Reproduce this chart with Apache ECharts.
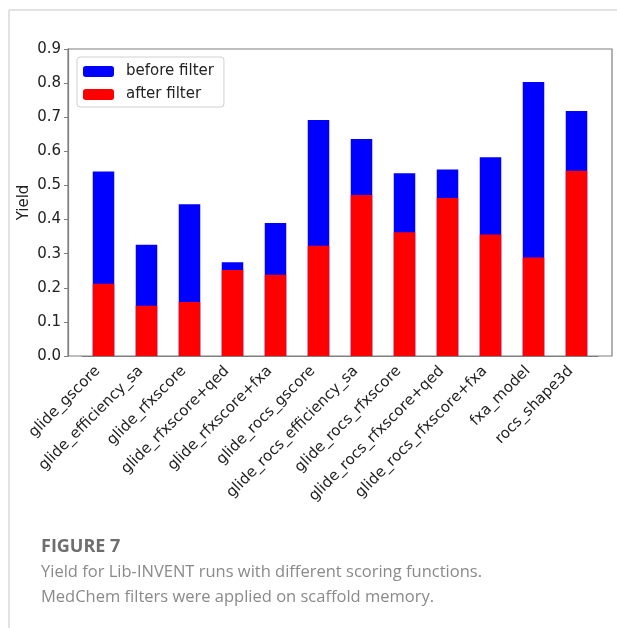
<!DOCTYPE html>
<html>
<head>
<meta charset="utf-8">
<script src="https://cdn.jsdelivr.net/npm/echarts@6/dist/echarts.min.js"></script>
<style>
  html, body { margin: 0; padding: 0; background: #fff; }
  #bar { width: 617px; height: 628px; }
</style>
</head>
<body>
<div id="bar"></div>
<script>
var categories = ['glide_gscore', 'glide_efficiency_sa', 'glide_rfxscore', 'glide_rfxscore+qed',
    'glide_rfxscore+fxa', 'glide_rocs_gscore', 'glide_rocs_efficiency_sa', 'glide_rocs_rfxscore',
    'glide_rocs_rfxscore+qed', 'glide_rocs_rfxscore+fxa', 'fxa_model', 'rocs_shape3d'];
var beforeFilter = [0.541, 0.326, 0.445, 0.275, 0.390, 0.692, 0.636, 0.536, 0.547, 0.583, 0.803, 0.718];
var afterFilter = [0.212, 0.147, 0.158, 0.252, 0.238, 0.323, 0.472, 0.363, 0.463, 0.356, 0.289, 0.543];
var yTicks = [0, 0.1, 0.2, 0.3, 0.4, 0.5, 0.6, 0.7, 0.8, 0.9];

var spine = '#7f7f7f';
var tickFont = 'DejaVu Sans';

//柱状图
var bar = echarts.init(document.getElementById('bar'));
bar.setOption({
    animation: false,
    // grid 0 = frame + y axis, grid 1 = bars (inset like matplotlib margins)
    grid: [
        {left: 68, right: 5, top: 49, bottom: 272, show: true, borderColor: spine, borderWidth: 1.2},
        {left: 82, right: 19, top: 49, bottom: 272}
    ],
    legend: {
        orient: 'vertical',
        left: 77, top: 57,
        itemWidth: 31, itemHeight: 11, itemGap: 8,
        padding: [7, 10, 5, 6],
        borderColor: '#d0d0d0', borderWidth: 1, borderRadius: 3,
        backgroundColor: '#fff',
        textStyle: {fontFamily: tickFont, fontSize: 15, color: '#222', padding: [0, 0, 0, 7]},
        data: ['before filter', 'after filter']
    },
    xAxis: [
        {gridIndex: 0, type: 'value', min: 0, max: 1, show: false},
        {
            gridIndex: 1, type: 'category', data: categories,
            axisLine: {lineStyle: {color: spine, width: 1.2}},
            axisTick: {alignWithLabel: true, length: 4, lineStyle: {color: spine}},
            axisLabel: {
                interval: 0, rotate: 45, margin: 7, padding: [0, 8, 0, 0],
                fontFamily: tickFont, fontSize: 15, color: '#222'
            }
        }
    ],
    yAxis: [
        {
            gridIndex: 0, type: 'value', min: 0, max: 0.9, interval: 0.1,
            name: 'Yield', nameLocation: 'middle', nameGap: 36, nameMoveOverlap: false,
            nameTextStyle: {fontFamily: tickFont, fontSize: 15, color: '#222'},
            axisLine: {show: true, lineStyle: {color: spine, width: 1.2}},
            axisTick: {show: true, length: 4, lineStyle: {color: spine}},
            splitLine: {show: false},
            axisLabel: {
                fontFamily: tickFont, fontSize: 15, color: '#222', margin: 7,
                formatter: function (v) { return v.toFixed(1); }
            }
        },
        {gridIndex: 1, type: 'value', min: yTicks[0], max: yTicks[yTicks.length - 1], show: false}
    ],
    series: [
        {
            name: 'before filter', type: 'bar', xAxisIndex: 1, yAxisIndex: 1,
            data: beforeFilter, barWidth: '50%', barGap: '-100%',
            itemStyle: {color: '#0000ff'}
        },
        {
            name: 'after filter', type: 'bar', xAxisIndex: 1, yAxisIndex: 1,
            data: afterFilter, barWidth: '50%',
            itemStyle: {color: '#ff0000'}
        }
    ],
    graphic: [
        {type: 'line', shape: {x1: 9, y1: 10, x2: 617, y2: 10}, style: {stroke: '#d9d9d9', lineWidth: 1.5}},
        {type: 'line', shape: {x1: 9, y1: 10, x2: 9, y2: 628}, style: {stroke: '#d9d9d9', lineWidth: 1.5}},
        {type: 'text', left: 41, top: 538, style: {text: 'FIGURE 7', fontFamily: 'Open Sans', fontWeight: 'bold', fontSize: 18, fill: '#6e6e6e'}},
        {type: 'text', left: 41, top: 564, style: {text: 'Yield for Lib-INVENT runs with different scoring functions.', fontFamily: 'Open Sans', fontSize: 16.5, fill: '#8a8a8a'}},
        {type: 'text', left: 41, top: 589, style: {text: 'MedChem filters were applied on scaffold memory.', fontFamily: 'Open Sans', fontSize: 16.5, fill: '#8a8a8a'}}
    ]
});
</script>
</body>
</html>
